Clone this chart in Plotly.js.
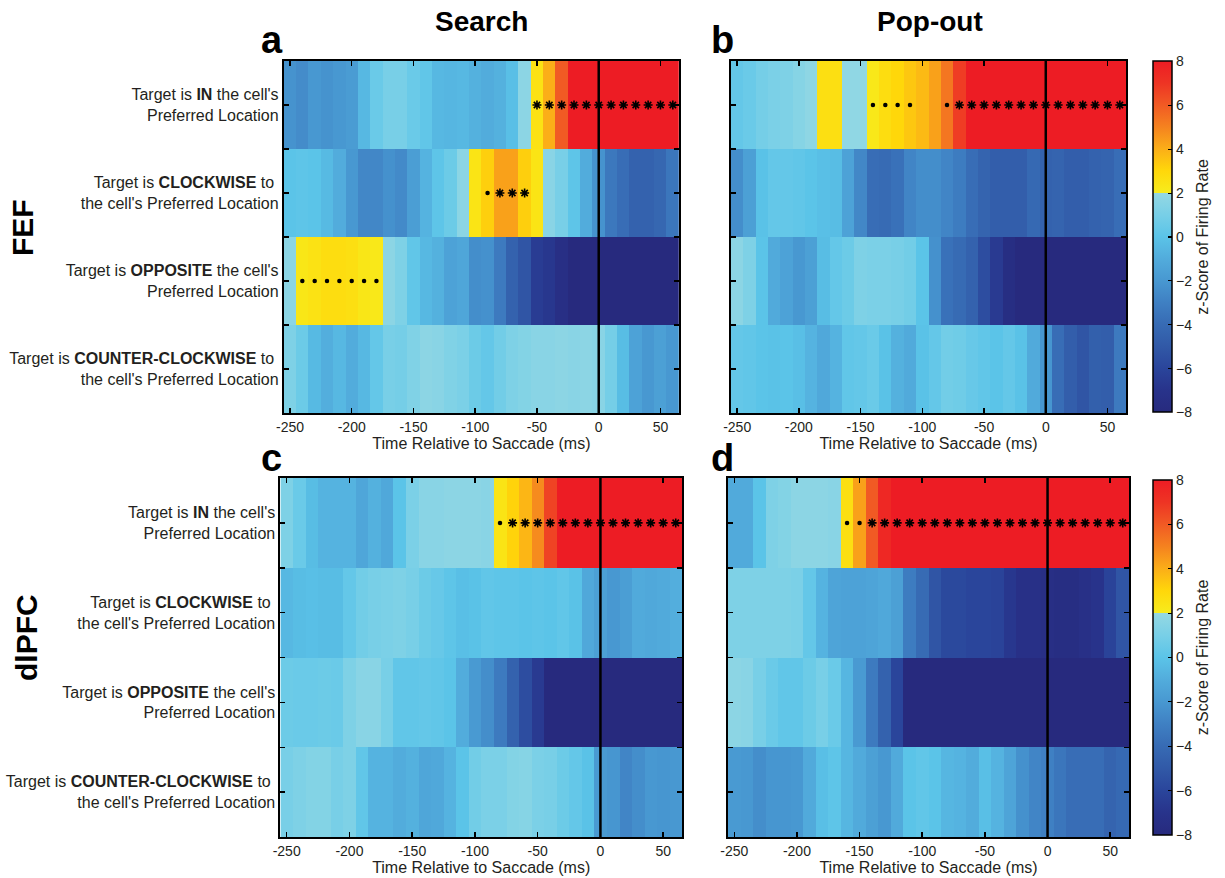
<!DOCTYPE html>
<html>
<head>
<meta charset="utf-8">
<script src="https://cdn.plot.ly/plotly-3.0.1.min.js"></script>
<style>html,body{margin:0;padding:0;background:#fff;}#chart{width:1225px;height:878px;}</style>
</head>
<body>
<div id="chart"></div>
<script>
// ---- Data ----
const times = [-250,-240,-230,-220,-210,-200,-190,-180,-170,-160,-150,-140,-130,-120,-110,-100,-90,-80,-70,-60,-50,-40,-30,-20,-10,0,10,20,30,40,50,60];
const rowLabels = [
  "Target is <b>IN</b> the cell's<br>Preferred Location",
  "Target is <b>CLOCKWISE</b> to <br>the cell's Preferred Location",
  "Target is <b>OPPOSITE</b> the cell's<br>Preferred Location",
  "Target is <b>COUNTER-CLOCKWISE</b> to <br>the cell's Preferred Location"
];
const xTickVals = [-250,-200,-150,-100,-50,0,50];
const xTickText = ["-250","-200","-150","-100","-50","0","50"];
const cbTickVals = [-8,-6,-4,-2,0,2,4,6,8];

// (a) Search, FEF
const searchFEF_IN  = [-2.2,-2.5,-2,-2.2,-2,-1.8,-0.5,0.5,1,1, 0.5,0.2,-0.5,-0.6,-0.5,-0.8,-1,-0.8,-0.2,1.7, 2.5,4,6,9,9,9,9,9,9,9, 9,9];
const searchFEF_CW  = [0,0.1,0,-0.4,-1,-2,-2.7,-2.7,-2.3,-2.6, -1.7,-0.7,0.1,0.6,1.7,2.4,3.2,4.3,4.3,3.2, 2.4,1.6,1,0.1,-1,-2.2,-3.4,-3.9,-4.5,-4.5, -4.2,-3.5];
const searchFEF_OPP = [1.7,2.3,2.5,2.7,2.7,2.6,2.3,2.2,1.7,1.2, 0.2,-0.5,-0.8,-1.5,-1.3,-2.4,-2.3,-3.3,-4.5,-5.2, -6.5,-6.8,-7.5,-9,-9,-9,-9,-9,-9,-9, -9,-9];
const searchFEF_CCW = [1.2,0.6,-0.4,-0.9,-0.5,-1,-0.5,0.3,1,0.9, 1.3,1.7,1.6,1.3,1.1,0.6,0.3,0.8,1.2,1.4, 1.6,1.6,1.7,1.6,1.7,1.6,0.9,-0.3,-1.5,-2, -1.6,-2];
// (b) Pop-out, FEF
const popFEF_IN  = [0.3,0.5,0.9,1.1,1.2,1.5,1.8,2.6,2.6,1.85, 1.85,2.2,2.7,3,3.4,3.7,4.3,5.3,6.8,9, 9,9,9,9,9,9,9,9,9,9, 9,9];
const popFEF_CW  = [-2.4,-1.6,-0.1,0.3,0.3,0.2,0,-0.2,-0.3,-1.5, -2.7,-3.9,-4,-3.7,-2.8,-2.4,-2.4,-2.8,-3.2,-3.9, -4.4,-4.7,-4.7,-4.7,-4.1,-4.5,-4.4,-4.7,-4.7,-4.5, -4.4,-3.9];
const popFEF_OPP = [1.7,1.2,0,-1.1,-1.5,-2,-1.6,-0.3,0.3,0.6, 1.2,1.1,1.1,1,0.8,0,-2.3,-3.7,-4,-4.5, -5.6,-6.6,-7.6,-9,-9,-9,-9,-9,-9,-9, -9,-9];
const popFEF_CCW = [0.3,0.2,0,-0.1,0,-0.2,-0.7,-1.2,-0.7,0.2, 0.3,0.5,-0.1,-0.8,-1.1,-0.1,0.3,0.8,0.7,0.4, 0.2,0,0.3,-0.1,-1.1,-2.1,-3.9,-4.7,-5.2,-4.6, -4.7,-3.3];
// (c) Search, dlPFC
const searchPFC_IN  = [1.2,0.5,-0.3,-0.7,-0.7,-0.7,-1.3,-0.8,-1.2,0, 1.1,1.6,1.6,1.7,1.7,1.7,1.6,2.4,3.1,3.8, 4.8,6.6,9,9,9,9,9,9,9,9, 9,9];
const searchPFC_CW  = [-0.5,-0.3,-0.2,-0.3,-0.3,0.3,0.8,1,1.1,1.2, 1,0.6,0.4,0.1,-0.2,-0.1,0.2,0.1,0.1,0, 0.1,0,0.2,-0.1,-1.2,-1.6,-2,-1.7,-1.1,-1.2, -1.1,-0.9];
const searchPFC_OPP = [0.6,0.5,0.5,0.6,0.5,1.2,1.6,1.6,1,0.2, 0.2,0.3,0.2,0,-1,-1.9,-2.4,-3.3,-4.5,-5.6, -6.6,-9,-9,-9,-9,-9,-9,-9,-9,-9, -9,-9];
const searchPFC_CCW = [1,1.2,1.4,1.4,1,1.2,0.2,-0.7,-0.7,-1, -0.8,-1.3,-1.2,-0.7,0,0.8,1.1,1.1,1.4,1.5, 1.1,1,0.6,0.3,-0.1,-1.9,-2.1,-2.8,-2.4,-2, -2.1,-2];
// (d) Pop-out, dlPFC
const popPFC_IN  = [-1.1,-1.1,0,1.2,1.4,1.7,1.7,1.7,1.6,2.6, 4.3,6,7.5,9,9,9,9,9,9,9, 9,9,9,9,9,9,9,9,9,9, 9,9];
const popPFC_CW  = [1.2,1.2,1.2,1.2,1.2,1.1,0.3,-0.7,-1.4,-1.5, -1.5,-1.4,-1.2,-1.6,-3.2,-4,-5.2,-5.8,-5.8,-6, -6,-6.1,-6.8,-7.3,-7.3,-7.5,-7.6,-7.6,-7.3,-7, -6.1,-5.2];
const popPFC_OPP = [1.7,1.6,1,0.5,0.2,0.2,0.6,1,0.5,-0.6, -1.9,-3.3,-4.5,-6,-9,-9,-9,-9,-9,-9, -9,-9,-9,-9,-9,-9,-9,-9,-9,-9, -9,-9];
const popPFC_CCW = [-1.9,-2,-2.4,-2.1,-2.1,-2,-1.1,-0.2,0.1,-0.6, -1.1,-1.6,-2,-1.1,0,0.2,0,-0.6,-0.7,-1, -0.2,-0.7,-1.4,-2.3,-2.8,-3,-3.5,-3.9,-3.9,-3.9, -4.4,-4.1];

// significance markers: dots (weaker) and asterisks (stronger); row index 0=IN,1=CW,2=OPP,3=CCW
const searchFEF_dots  = {x:[-90,-240,-230,-220,-210,-200,-190,-180], row:[1,2,2,2,2,2,2,2]};
const searchFEF_stars = {x:[-80,-70,-60,-50,-40,-30,-20,-10,0,10,20,30,40,50,60], row:[1,1,1,0,0,0,0,0,0,0,0,0,0,0,0]};
const popFEF_dots  = {x:[-140,-130,-120,-110,-80], row:[0,0,0,0,0]};
const popFEF_stars = {x:[-70,-60,-50,-40,-30,-20,-10,0,10,20,30,40,50,60], row:[0,0,0,0,0,0,0,0,0,0,0,0,0,0]};
const searchPFC_dots  = {x:[-80], row:[0]};
const searchPFC_stars = {x:[-70,-60,-50,-40,-30,-20,-10,0,10,20,30,40,50,60], row:[0,0,0,0,0,0,0,0,0,0,0,0,0,0]};
const popPFC_dots  = {x:[-160,-150], row:[0,0]};
const popPFC_stars = {x:[-140,-130,-120,-110,-100,-90,-80,-70,-60,-50,-40,-30,-20,-10,0,10,20,30,40,50,60], row:[0,0,0,0,0,0,0,0,0,0,0,0,0,0,0,0,0,0,0,0,0]};

// ---- Styling ----
const colorscale = [
  [0.0,'#272a7e'],[0.0625,'#28338b'],[0.125,'#2a459b'],[0.1875,'#3159a7'],
  [0.25,'#376bb4'],[0.3125,'#3f80c3'],[0.375,'#4898d1'],[0.4375,'#52acdc'],
  [0.5,'#5bc4e8'],[0.5625,'#78cfe7'],[0.6249,'#94d8e3'],
  [0.625,'#f7ec1d'],[0.6875,'#ffd70a'],[0.75,'#fbae18'],[0.8125,'#f5821f'],
  [0.875,'#f15a24'],[0.9375,'#ee3424'],[1.0,'#ed1c24']
];
const FONT = 'Arial, "Liberation Sans", Helvetica, sans-serif';
const TXT = '#231f20';
const W = 1225, H = 878;
function px(x){return x/W;}
function py(y){return 1 - y/H;}

const panels = [
  {key:'', rows:[searchFEF_IN,searchFEF_CW,searchFEF_OPP,searchFEF_CCW], dots:searchFEF_dots, stars:searchFEF_stars, x:[283.8,679], y:[61,413], labels:true},
  {key:'2', rows:[popFEF_IN,popFEF_CW,popFEF_OPP,popFEF_CCW], dots:popFEF_dots, stars:popFEF_stars, x:[731,1126], y:[61,413], labels:false},
  {key:'3', rows:[searchPFC_IN,searchPFC_CW,searchPFC_OPP,searchPFC_CCW], dots:searchPFC_dots, stars:searchPFC_stars, x:[280.4,682], y:[478,837], labels:true},
  {key:'4', rows:[popPFC_IN,popPFC_CW,popPFC_OPP,popPFC_CCW], dots:popPFC_dots, stars:popPFC_stars, x:[728,1129], y:[478,837], labels:false}
];

const data = [];
const layout = {
  width: W, height: H,
  margin:{l:0,r:0,t:0,b:0},
  paper_bgcolor:'#fff', plot_bgcolor:'#fff',
  showlegend:false,
  font:{family:FONT, color:TXT, size:13},
  shapes:[], annotations:[]
};

const yTickVals = [-0.5,0,0.5,1,1.5,2,2.5,3,3.5];

panels.forEach((p, i) => {
  const xa = 'x' + p.key, ya = 'y' + p.key;
  const hm = {
    type:'heatmap', x:times, y:[0,1,2,3], z:p.rows,
    xaxis:xa, yaxis:ya, colorscale:colorscale, zmin:-8, zmax:8,
    showscale: (i===0 || i===2), hoverinfo:'skip'
  };
  if (hm.showscale) {
    const cy = (p.y[0]+p.y[1])/2;
    hm.colorbar = {
      x: px(1153), xanchor:'left', xpad:0, ypad:0,
      y: py(cy), yanchor:'middle',
      thickness:19, thicknessmode:'pixels',
      len: (i===0 ? 351 : 355), lenmode:'pixels',
      outlinewidth:1.5, outlinecolor:'#000',
      tickvals:cbTickVals, ticks:'inside', ticklen:4, tickwidth:1.2, tickcolor:'#000',
      tickfont:{size:14, family:FONT, color:TXT},
      title:{text:'z-Score of Firing Rate', side:'right', font:{size:16, family:FONT, color:TXT}}
    };
  }
  data.push(hm);
  data.push({
    type:'scatter', mode:'markers', x:p.dots.x, y:p.dots.row, xaxis:xa, yaxis:ya,
    marker:{symbol:'circle', size:4.5, color:'#000'}, hoverinfo:'skip', cliponaxis:false
  });
  data.push({
    type:'scatter', mode:'markers', x:p.stars.x, y:p.stars.row, xaxis:xa, yaxis:ya,
    marker:{symbol:'asterisk-open', size:7.5, color:'#000', line:{color:'#000', width:1.6}}, hoverinfo:'skip', cliponaxis:false
  });
  data.push({
    type:'scatter', mode:'markers', x:p.stars.x, y:p.stars.row, xaxis:xa, yaxis:ya,
    marker:{symbol:'circle', size:3.5, color:'#000'}, hoverinfo:'skip', cliponaxis:false
  });

  layout['xaxis' + p.key] = {
    domain:[px(p.x[0]), px(p.x[1])], anchor:ya,
    range:[-255,65], showgrid:false, zeroline:false,
    showline:true, linecolor:'#000', linewidth:2, mirror:'ticks',
    ticks:'inside', ticklen:5, tickwidth:1.5, tickcolor:'#000',
    tickvals:xTickVals, ticktext:xTickText,
    tickfont:{size:14, family:FONT, color:TXT},
    title:{text:'Time Relative to Saccade (ms)', font:{size:16, family:FONT, color:TXT}, standoff:1}
  };
  layout['yaxis' + p.key] = {
    domain:[py(p.y[1]), py(p.y[0])], anchor:xa,
    range:[3.5,-0.5], showgrid:false, zeroline:false,
    showline:true, linecolor:'#000', linewidth:2, mirror:'ticks',
    ticks:'inside', ticklen:5, tickwidth:1.5, tickcolor:'#000',
    tickvals:yTickVals,
    ticktext: yTickVals.map(v => (p.labels && Number.isInteger(v)) ? rowLabels[v] : ''),
    tickfont:{size:16, family:FONT, color:TXT}
  };
  layout.shapes.push({
    type:'line', xref:xa, yref:ya + ' domain', x0:0, x1:0, y0:0, y1:1,
    line:{color:'#000', width:2.5}, layer:'above'
  });
});

function ann(text, x, y, size, angle){
  layout.annotations.push({
    text:text, xref:'paper', yref:'paper', x:px(x), y:py(y),
    xanchor:'center', yanchor:'middle', showarrow:false, textangle:angle||0,
    font:{size:size, family:FONT, color:'#000'}
  });
}
ann('<b>Search</b>', 481, 22, 28);
ann('<b>Pop-out</b>', 930, 22, 28);
ann('<b>a</b>', 272, 40, 38);
ann('<b>b</b>', 722, 40, 38);
ann('<b>c</b>', 271, 458, 38);
ann('<b>d</b>', 722, 458, 38);
ann('<b>FEF</b>', 23, 228, 30, -90);
ann('<b>dlPFC</b>', 26, 638, 30, -90);

Plotly.newPlot('chart', data, layout, {staticPlot:true, displayModeBar:false});
</script>
</body>
</html>
